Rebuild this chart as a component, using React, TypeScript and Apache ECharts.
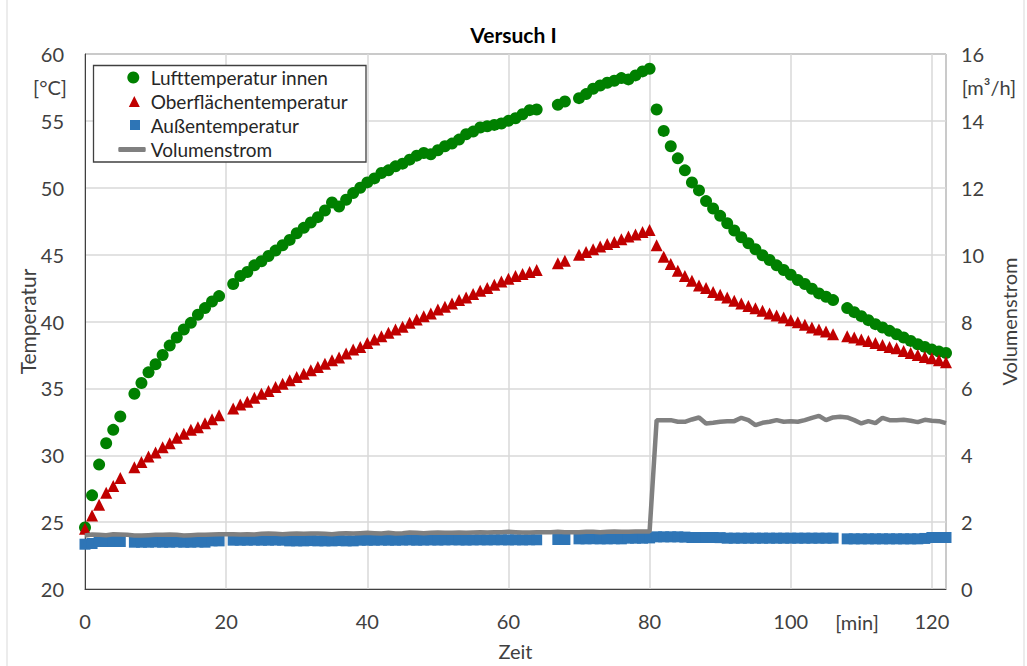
import { useEffect, useRef } from "react";
import * as echarts from "echarts";

const FONT = 'Lato, "Noto Sans", sans-serif';

const minutes = [
  0, 1, 2, 3, 4, 5, 6, 7, 8, 9, 10, 11, 12, 13, 14, 15, 16, 17, 18, 19, 20,
  21, 22, 23, 24, 25, 26, 27, 28, 29, 30, 31, 32, 33, 34, 35, 36, 37, 38, 39, 40,
  41, 42, 43, 44, 45, 46, 47, 48, 49, 50, 51, 52, 53, 54, 55, 56, 57, 58, 59, 60,
  61, 62, 63, 64, 65, 66, 67, 68, 69, 70, 71, 72, 73, 74, 75, 76, 77, 78, 79, 80,
  81, 82, 83, 84, 85, 86, 87, 88, 89, 90, 91, 92, 93, 94, 95, 96, 97, 98, 99, 100,
  101, 102, 103, 104, 105, 106, 107, 108, 109, 110, 111, 112, 113, 114, 115, 116, 117, 118, 119, 120,
  121, 122,
];

const lufttemperatur = [
  24.6, 27.0, 29.3, 30.9, 31.9, 32.9, null, 34.6, 35.4, 36.2, 36.8, 37.5, 38.2, 38.8, 39.4, 39.9, 40.5, 41.0, 41.5, 41.9, null,
  42.8, 43.4, 43.7, 44.2, 44.5, 44.9, 45.3, 45.7, 46.1, 46.6, 47.0, 47.4, 47.8, 48.3, 48.9, 48.6, 49.1, 49.6, 50.0, 50.4,
  50.7, 51.1, 51.3, 51.6, 51.8, 52.1, 52.4, 52.6, 52.5, 52.8, 53.1, 53.3, 53.6, 54.0, 54.2, 54.5, 54.6, 54.7, 54.8, 55.0,
  55.2, 55.5, 55.8, 55.85, null, null, 56.2, 56.45, null, 56.7, 57.0, 57.4, 57.65, 57.85, 58.0, 58.2, 58.1, 58.4, 58.7, 58.9,
  55.85, 54.25, 53.1, 52.2, 51.3, 50.4, 49.8, 49.0, 48.45, 47.9, 47.35, 46.8, 46.3, 45.85, 45.4, 44.95, 44.6, 44.2, 43.85, 43.5,
  43.1, 42.8, 42.45, 42.1, 41.85, 41.6, null, 41.0, 40.7, 40.4, 40.1, 39.8, 39.55, 39.3, 39.05, 38.8, 38.55, 38.3, 38.1, 37.9,
  37.75, 37.65,
];

const oberflaechentemperatur = [
  24.5, 25.5, 26.3, 27.2, 27.7, 28.3, null, 29.1, 29.5, 29.9, 30.2, 30.6, 30.9, 31.3, 31.6, 31.9, 32.1, 32.4, 32.7, 33.0, null,
  33.5, 33.8, 34.0, 34.3, 34.6, 34.8, 35.1, 35.35, 35.6, 35.85, 36.1, 36.35, 36.6, 36.85, 37.1, 37.3, 37.6, 37.9, 38.1, 38.4,
  38.65, 38.9, 39.15, 39.4, 39.6, 39.9, 40.15, 40.4, 40.6, 40.9, 41.1, 41.35, 41.6, 41.8, 42.05, 42.3, 42.5, 42.75, 43.0, 43.2,
  43.4, 43.55, 43.7, 43.85, null, null, 44.35, 44.55, null, 45.0, 45.2, 45.4, 45.6, 45.8, 45.95, 46.15, 46.35, 46.5, 46.7, 46.85,
  45.7, 44.85, 44.3, 43.8, 43.4, 43.05, 42.7, 42.5, 42.2, 42.0, 41.8, 41.55, 41.35, 41.15, 41.0, 40.8, 40.6, 40.45, 40.3, 40.1,
  39.95, 39.75, 39.55, 39.4, 39.25, 39.05, null, 38.9, 38.8, 38.65, 38.55, 38.4, 38.25, 38.1, 38.0, 37.8, 37.65, 37.5, 37.35, 37.25,
  37.1, 36.95,
];

const aussentemperatur = [
  23.35, 23.4, 23.55, 23.55, 23.55, 23.55, null, 23.5, 23.5, 23.5, 23.52, 23.5, 23.5, 23.52, 23.5, 23.5, 23.52, 23.5, 23.6, 23.6, null,
  23.65, 23.65, 23.65, 23.66, 23.65, 23.65, 23.66, 23.65, 23.6, 23.6, 23.6, 23.62, 23.6, 23.6, 23.6, 23.62, 23.6, 23.6, 23.65, 23.65,
  23.65, 23.66, 23.65, 23.65, 23.66, 23.67, 23.65, 23.66, 23.67, 23.66, 23.67, 23.68, 23.67, 23.66, 23.67, 23.68, 23.67, 23.68, 23.68, 23.67,
  23.68, 23.67, 23.68, 23.68, null, null, 23.7, 23.7, null, 23.75, 23.75, 23.76, 23.75, 23.75, 23.76, 23.75, 23.8, 23.8, 23.8, 23.82,
  23.9, 23.9, 23.9, 23.9, 23.88, 23.85, 23.85, 23.85, 23.85, 23.84, 23.8, 23.8, 23.8, 23.8, 23.8, 23.8, 23.8, 23.8, 23.8, 23.8,
  23.8, 23.8, 23.8, 23.8, 23.8, 23.8, null, 23.75, 23.75, 23.75, 23.75, 23.75, 23.75, 23.75, 23.75, 23.75, 23.75, 23.75, 23.78, 23.85,
  23.85, 23.85,
];

const volumenstrom = [
  1.6, 1.63, 1.62, 1.61, 1.64, 1.63, 1.62, 1.6, 1.6, 1.61, 1.62, 1.62, 1.63, 1.62, 1.6, 1.61, 1.62, 1.62, 1.63, 1.64, 1.64,
  1.64, 1.63, 1.64, 1.63, 1.65, 1.66, 1.65, 1.64, 1.65, 1.66, 1.65, 1.66, 1.66, 1.65, 1.64, 1.66, 1.67, 1.66, 1.67, 1.68,
  1.67, 1.66, 1.68, 1.66, 1.67, 1.69, 1.68, 1.67, 1.68, 1.69, 1.68, 1.68, 1.69, 1.68, 1.69, 1.7, 1.69, 1.7, 1.7, 1.71,
  1.7, 1.69, 1.69, 1.7, 1.7, 1.7, 1.71, 1.7, 1.7, 1.7, 1.71, 1.71, 1.7, 1.71, 1.72, 1.71, 1.71, 1.72, 1.72, 1.72,
  5.05, 5.05, 5.05, 5.0, 5.0, 5.07, 5.13, 4.95, 4.97, 5.0, 5.02, 5.02, 5.12, 5.05, 4.9, 4.97, 5.0, 5.05, 5.0, 5.02,
  5.0, 5.05, 5.12, 5.18, 5.05, 5.13, 5.15, 5.13, 5.05, 4.95, 5.02, 4.96, 5.12, 5.05, 5.05, 5.06, 5.03, 4.99, 5.06, 5.03,
  5.02, 4.96,
];

const seriesNames = ["Lufttemperatur innen", "Oberflächentemperatur", "Außentemperatur", "Volumenstrom"];

function pairs(values: (number | null)[]) {
  const out: number[][] = [];
  minutes.forEach((t, i) => {
    const v = values[i];
    if (v !== null && v !== undefined) out.push([t, v]);
  });
  return out;
}

export default function App() {
  const ref = useRef<HTMLDivElement>(null);

  useEffect(() => {
    if (!ref.current) return;
    const chart = echarts.init(ref.current, null, { renderer: "svg" });
    const labelColor = "#404040";
    const legendBase = {
      orient: "horizontal",
      padding: 0,
      selectedMode: false,
      itemGap: 0,
      textStyle: { fontSize: 19, color: "#262626", fontFamily: FONT, lineHeight: 22 },
    };
    chart.setOption({
      animation: false,
      backgroundColor: "#ffffff",
      title: {
        text: "Versuch I",
        left: "center",
        top: 19,
        textStyle: { fontSize: 21, fontWeight: "bold", color: "#000", fontFamily: FONT },
      },
      legend: [
        { ...legendBase, data: [{ name: seriesNames[0], icon: "circle" }], left: 127.3, top: 66.5, itemWidth: 24.8, itemHeight: 12 },
        { ...legendBase, data: [{ name: seriesNames[1], icon: "path://M5,0L10,10L0,10Z" }], left: 128.8, top: 90.5, itemWidth: 22.8, itemHeight: 11 },
        { ...legendBase, data: [{ name: seriesNames[2], icon: "path://M0,0H10V10H0Z" }], left: 130, top: 114, itemWidth: 21.4, itemHeight: 10 },
        { ...legendBase, data: [{ name: seriesNames[3], icon: "roundRect" }], left: 118.3, top: 138.5, itemWidth: 27.4, itemHeight: 5 },
      ],
      grid: { left: 85, top: 54, right: 79, bottom: 77, show: true, borderColor: "#404040", borderWidth: 1 },
      xAxis: {
        type: "value",
        min: 0,
        max: 122,
        interval: 20,
        name: "Zeit",
        nameLocation: "middle",
        nameGap: 52,
        nameTextStyle: { fontSize: 20, color: labelColor, fontFamily: FONT },
        axisLine: { show: true, lineStyle: { color: "#404040", width: 1 } },
        axisTick: { show: false },
        axisLabel: { fontSize: 20, color: labelColor, fontFamily: FONT, margin: 22, showMaxLabel: false },
        splitLine: { show: true, lineStyle: { color: "#d9d9d9", width: 1.5 } },
      },
      yAxis: [
        {
          type: "value",
          min: 20,
          max: 60,
          interval: 5,
          position: "left",
          name: "Temperatur",
          nameLocation: "middle",
          nameRotate: 90,
          nameGap: 47,
          nameMoveOverlap: false,
          nameTextStyle: { fontSize: 21, color: labelColor, fontFamily: FONT },
          axisLine: { show: true, lineStyle: { color: "#404040", width: 1 } },
          axisTick: { show: false },
          axisLabel: { fontSize: 20, color: labelColor, fontFamily: FONT, margin: 21 },
          splitLine: { show: true, lineStyle: { color: "#d9d9d9", width: 1.5 } },
        },
        {
          type: "value",
          min: 0,
          max: 16,
          interval: 2,
          position: "right",
          name: "Volumenstrom",
          nameLocation: "middle",
          nameRotate: 90,
          nameGap: 53,
          nameTextStyle: { fontSize: 20, color: labelColor, fontFamily: FONT },
          axisLine: { show: false },
          axisTick: { show: false },
          axisLabel: { fontSize: 20, color: labelColor, fontFamily: FONT, margin: 15 },
          splitLine: { show: false },
        },
      ],
      graphic: [
        {
          type: "rect",
          z: 3,
          shape: { x: 93.5, y: 65.5, width: 272.5, height: 96.5 },
          style: { fill: "#ffffff", stroke: "#404040", lineWidth: 1.3 },
        },
        {
          type: "rect",
          silent: true,
          shape: { x: 7, y: -5, width: 1017, height: 680 },
          style: { fill: "none", stroke: "#d9d9d9", lineWidth: 1 },
        },
        {
          type: "text",
          x: 50,
          y: 87,
          style: { text: "[°C]", fontSize: 20, fill: labelColor, fontFamily: FONT, align: "center", verticalAlign: "middle" },
        },
        {
          type: "text",
          x: 989,
          y: 87,
          style: { text: "[m³/h]", fontSize: 20, fill: labelColor, fontFamily: FONT, align: "center", verticalAlign: "middle" },
        },
        {
          type: "text",
          x: 857,
          y: 622,
          style: { text: "[min]", fontSize: 20, fill: labelColor, fontFamily: FONT, align: "center", verticalAlign: "middle" },
        },
      ],
      series: [
        {
          name: seriesNames[0],
          type: "scatter",
          yAxisIndex: 0,
          symbol: "circle",
          symbolSize: 12,
          itemStyle: { color: "#008000", opacity: 1 },
          data: pairs(lufttemperatur),
        },
        {
          name: seriesNames[1],
          type: "scatter",
          yAxisIndex: 0,
          symbol: "triangle",
          symbolSize: 12,
          itemStyle: { color: "#c00000", opacity: 1 },
          data: pairs(oberflaechentemperatur),
        },
        {
          name: seriesNames[2],
          type: "scatter",
          yAxisIndex: 0,
          symbol: "rect",
          symbolSize: 11,
          itemStyle: { color: "#2e75b6", opacity: 1 },
          data: pairs(aussentemperatur),
        },
        {
          name: seriesNames[3],
          type: "line",
          yAxisIndex: 1,
          symbol: "none",
          itemStyle: { color: "#808080" },
          lineStyle: { color: "#808080", width: 4.5 },
          data: pairs(volumenstrom),
        },
      ],
    });
    return () => chart.dispose();
  }, []);

  return (
    <div
      ref={ref}
      style={{ position: "absolute", left: 0, top: 0, width: 1027, height: 666 }}
    />
  );
}
